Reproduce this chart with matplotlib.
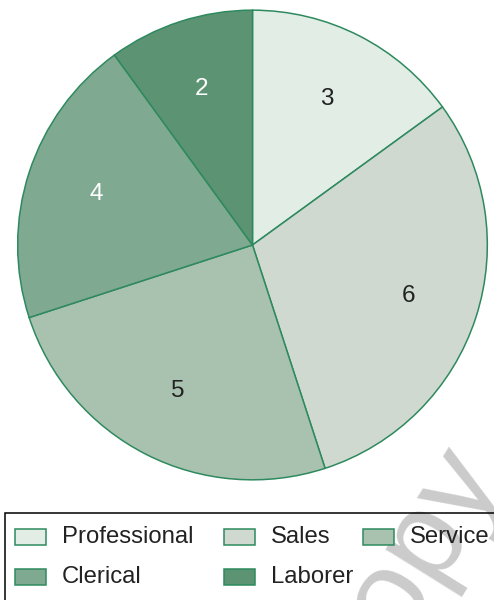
import matplotlib.pyplot as plt
from matplotlib.patches import Rectangle

# occupation groups and counts
categories = ["Professional", "Sales", "Service", "Clerical", "Laborer"]
counts = [3, 6, 5, 4, 2]
colors = ["#e2ede5", "#cfd9d0", "#a9c2b0", "#80a991", "#5c9473"]
label_colors = ["#222222", "#222222", "#222222", "white", "white"]

edge = "#2e8a5e"
plt.rcParams["font.family"] = ["Liberation Sans", "DejaVu Sans"]

W, H = 494, 600
fig = plt.figure(figsize=(W / 100, H / 100), dpi=100)

# pie: centre (252.5, 245) px, radius 236 px
cx, cy, r = 252.5, 245, 236
ax = fig.add_axes([(cx - r) / W, (H - cy - r) / H, 2 * r / W, 2 * r / H])
wedges, _, autotexts = ax.pie(
    counts,
    colors=colors,
    startangle=90,
    counterclock=False,
    autopct=lambda p: f"{p * sum(counts) / 100:.0f}",
    pctdistance=0.7,
    wedgeprops=dict(edgecolor=edge, linewidth=1.1),
    textprops=dict(fontsize=17.5),
)
for t, c in zip(autotexts, label_colors):
    t.set_color(c)
ax.set_xlim(-1.005, 1.005)
ax.set_ylim(-1.005, 1.005)
ax.set_aspect("equal")
ax.axis("off")

# watermark
fig.text(408 / W, 1 - 568 / H, "copy", fontsize=88, color="#cbcbcb",
         rotation=58, ha="center", va="center", zorder=0)

# legend box, running off the right and bottom edges
fig.patches.append(Rectangle((5 / W, -0.02), 1.1, 1 - 513 / H + 0.02,
                             transform=fig.transFigure, fill=False,
                             edgecolor="black", linewidth=1.1, zorder=1))

col_x = [15, 224, 363]
row_y = [537, 577]
for i, (name, color) in enumerate(zip(categories, colors)):
    x = col_x[i % 3]
    y = row_y[i // 3]
    fig.patches.append(Rectangle((x / W, 1 - (y + 8) / H), 31 / W, 16 / H,
                                 transform=fig.transFigure, facecolor=color,
                                 edgecolor=edge, linewidth=1.1, zorder=2))
    fig.text((x + 47) / W, 1 - y / H, name, fontsize=17.2, color="#222222",
             ha="left", va="center", zorder=3)

fig.savefig("out.png", dpi=100)
